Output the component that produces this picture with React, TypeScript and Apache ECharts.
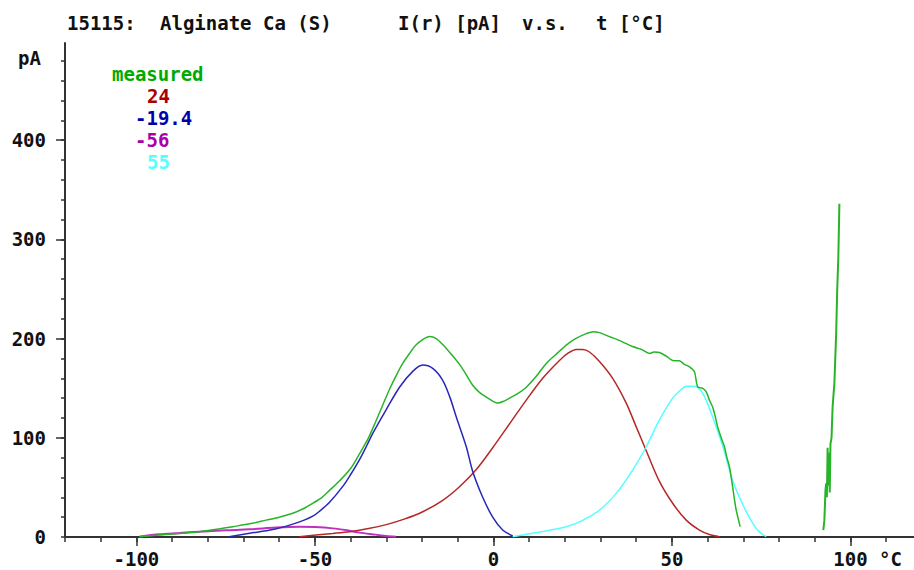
import React, { useEffect, useRef } from "react";
import * as echarts from "echarts";

const FONT = "'DejaVu Sans Mono', 'Liberation Mono', monospace";

// Measured current (pA) vs temperature (°C), low-temperature part
const measuredLow: [number, number][] = [
  [-99, 0.5], [-93.6, 2], [-88, 3.5], [-82.4, 5.4], [-77, 8], [-73, 10.4], [-68, 13.5],
  [-63.7, 17], [-60, 20], [-56.2, 24], [-53, 29], [-50.6, 34], [-48, 40], [-45.9, 47],
  [-43, 57], [-40, 69], [-37.5, 84], [-35, 100], [-32.9, 117], [-31, 133], [-29.1, 149],
  [-27.2, 163], [-25.4, 175], [-23.5, 185], [-21.7, 193.5], [-19.8, 199], [-17.9, 202],
  [-16, 200], [-14.2, 194], [-12, 185], [-9.5, 174], [-7.5, 163], [-5.8, 153], [-4, 146],
  [-2, 141], [0, 136.5], [1.2, 135], [3, 137], [4.5, 140], [7, 145], [9.2, 151], [12, 162],
  [14.8, 175], [17.5, 184], [20.4, 193.5], [23, 200], [26, 205], [28, 207], [29.7, 206],
  [32.5, 202], [36, 197], [39, 192], [41.5, 189], [43.7, 185], [45, 186.5], [46.5, 186],
  [48.5, 182], [50.2, 178], [52.1, 177.6], [53.5, 174], [54.9, 171.6], [56.3, 166.6],
  [57.2, 151.4], [58.5, 150], [59.6, 146.4], [60.5, 138], [61.4, 131], [62.1, 122],
  [62.8, 111], [63.8, 100], [64.7, 91], [65.4, 80], [66.1, 71], [66.6, 60], [67, 50.7],
  [67.5, 38], [68, 27], [68.6, 18], [69.1, 10.4],
];

// Measured current, high-temperature part
const measuredHigh: [number, number][] = [
  [92.4, 7], [92.7, 17], [93.0, 47], [93.2, 54], [93.4, 40], [93.6, 90], [93.8, 52],
  [94.0, 85], [94.2, 45], [94.4, 94], [94.7, 100], [95.0, 131], [95.5, 155], [96.0, 205],
  [96.3, 250], [96.6, 281], [96.9, 336],
];

// Fitted peak at 24 °C
const peak24: [number, number][] = [
  [-54.3, 0.3], [-49.7, 2], [-45, 3.6], [-40.3, 5.4], [-35, 8.5], [-30, 12.5], [-25, 18],
  [-19.8, 25.5], [-14.2, 37], [-9.5, 50.7], [-4.8, 68], [-0.2, 90], [4.5, 114],
  [9.2, 138], [13.8, 160], [18.5, 178], [21, 185.5], [23.2, 189], [25, 189], [26.9, 186.5],
  [29.7, 177], [33.4, 160], [37.2, 135], [40, 111], [42.8, 87], [46.5, 56],
  [50.2, 34], [54, 17], [57.7, 7], [60.5, 2.5], [63.3, 0.3],
];

// Fitted peak at -19.4 °C
const peakM19: [number, number][] = [
  [-74, 0.3], [-68.3, 3.7], [-61.8, 7.5], [-56.2, 13], [-53, 17], [-50.6, 21],
  [-48.7, 26], [-45.9, 35], [-42.2, 51], [-40, 63], [-37.5, 78], [-35.5, 92],
  [-33.8, 104.5], [-30.1, 128], [-26.3, 151], [-22.6, 167], [-19.8, 173.3], [-17, 170],
  [-14.2, 158], [-12.2, 141], [-10.4, 121], [-7.6, 91], [-5.8, 66], [-3, 40],
  [-0.2, 20], [2.6, 7], [5.4, 1],
];

// Fitted peak at -56 °C
const peakM56: [number, number][] = [
  [-99.2, 0.3], [-93.6, 2.7], [-88, 4], [-82.4, 5.4], [-75, 6.8], [-68.3, 7.7],
  [-61, 9.5], [-54.3, 10.4], [-50, 10], [-45, 8.7], [-41, 6.7], [-37.5, 4.4],
  [-33, 2.4], [-30, 1], [-27.3, 0.3],
];

// Fitted peak at 55 °C
const peak55: [number, number][] = [
  [5.4, 0.3], [11, 3.7], [16, 7], [20.4, 10.4], [24, 15], [26.9, 20.5], [29.7, 27],
  [34.4, 44], [39, 67.5], [42.8, 91], [46.5, 118], [50.2, 140], [52.5, 148.5], [54, 152],
  [56.3, 152], [58.6, 145], [61.4, 121], [64.3, 91], [67, 57], [69.8, 33], [72.6, 14],
  [74.5, 5], [76.4, 0.3],
];

const xLabelValues = [-100, -50, 0, 50, 100];
const xMinorTicks = [-120, -110, -100, -90, -80, -70, -60, -50, -40, -30, -20, -10, 0, 10, 20, 30, 40, 50, 60, 70, 80, 90, 100, 110];
const yLabelValues = [0, 100, 200, 300, 400];
const yMinorTicks = [0, 20, 40, 60, 80, 100, 120, 140, 160, 180, 200, 220, 240, 260, 280, 300, 320, 340, 360, 380, 400, 420, 440, 460, 480];

const legendItems = [
  { label: "measured", color: "#00aa00", x: 112 },
  { label: "24", color: "#aa0000", x: 147 },
  { label: "-19.4", color: "#0000aa", x: 135 },
  { label: "-56", color: "#aa00aa", x: 135 },
  { label: "55", color: "#55ffff", x: 147 },
];

const titleParts = [
  { text: "15115:", x: 67 },
  { text: "Alginate Ca (S)", x: 160 },
  { text: "I(r) [pA]", x: 398 },
  { text: "v.s.", x: 522 },
  { text: "t [°C]", x: 596 },
];

const X_MIN = -120;
const X_MAX = 117.8;
const Y_MAX = 498;

export default function App() {
  const ref = useRef<HTMLDivElement>(null);
  useEffect(() => {
    if (!ref.current) return;
    const chart = echarts.init(ref.current, null, { renderer: "svg" });
    const axisColor = "#333333";
    const textStyle = { color: "#111111", fontFamily: FONT, fontSize: 19, fontWeight: "bold" as const };
    const lineSeries = (name: string, data: [number, number][], color: string, width = 1.5) => ({
      name,
      type: "line",
      data,
      showSymbol: false,
      symbol: "none",
      smooth: 0.3,
      lineStyle: { color, width },
      itemStyle: { color },
      z: 3,
    });
    chart.setOption({
      animation: false,
      backgroundColor: "#ffffff",
      grid: [{ left: 65, right: 0, top: 43, bottom: 33, containLabel: false }],
      xAxis: [
        {
          type: "value",
          min: X_MIN,
          max: X_MAX,
          axisLine: { show: true, onZero: false, lineStyle: { color: axisColor, width: 2 } },
          axisTick: { show: true, customValues: xMinorTicks, length: 5, lineStyle: { color: axisColor, width: 1.5 } },
          axisLabel: { show: true, customValues: xLabelValues, margin: 12, ...textStyle },
          splitLine: { show: false },
        },
        {
          type: "value",
          min: X_MIN,
          max: X_MAX,
          position: "bottom",
          axisLine: { show: false, onZero: false },
          axisTick: { show: true, customValues: xLabelValues, length: 9, lineStyle: { color: axisColor, width: 1.5 } },
          axisLabel: { show: false },
          splitLine: { show: false },
        },
      ],
      yAxis: [
        {
          type: "value",
          min: 0,
          max: Y_MAX,
          axisLine: { show: true, onZero: false, lineStyle: { color: axisColor, width: 2 } },
          axisTick: { show: true, customValues: yMinorTicks, length: 4, lineStyle: { color: axisColor, width: 1.5 } },
          axisLabel: { show: true, customValues: yLabelValues, margin: 19, ...textStyle },
          splitLine: { show: false },
        },
        {
          type: "value",
          min: 0,
          max: Y_MAX,
          position: "left",
          axisLine: { show: false, onZero: false },
          axisTick: { show: true, customValues: yLabelValues.filter((v) => v > 0), length: 9, lineStyle: { color: axisColor, width: 1.5 } },
          axisLabel: { show: false },
          splitLine: { show: false },
        },
      ],
      series: [
        lineSeries("-56", peakM56, "#c030c0", 2),
        lineSeries("24", peak24, "#b52828", 1.5),
        lineSeries("-19.4", peakM19, "#2828b8", 1.5),
        lineSeries("55", peak55, "#55ffff", 1.5),
        lineSeries("measured", measuredLow, "#28b428", 1.5),
        { ...lineSeries("measured", measuredHigh, "#28b428", 2), smooth: false },
      ],
      graphic: [
        ...titleParts.map((p) => ({
          type: "text",
          left: p.x,
          top: 13,
          style: { text: p.text, fill: "#111111", font: `bold 19px ${FONT}` },
        })),
        {
          type: "text",
          left: 18,
          top: 48,
          style: { text: "pA", fill: "#111111", font: `bold 19px ${FONT}` },
        },
        {
          type: "text",
          x: 879,
          y: 559,
          style: { text: "°C", fill: "#111111", font: `bold 19px ${FONT}`, verticalAlign: "middle", align: "left" },
        },
        ...legendItems.map((it, i) => ({
          type: "text",
          left: it.x,
          top: 64 + i * 22,
          style: { text: it.label, fill: it.color, font: `bold 19px ${FONT}` },
        })),
      ],
    });
    return () => chart.dispose();
  }, []);
  return (
    <div
      ref={ref}
      style={{ position: "fixed", left: 0, top: 0, width: 914, height: 570, background: "#ffffff" }}
    />
  );
}
